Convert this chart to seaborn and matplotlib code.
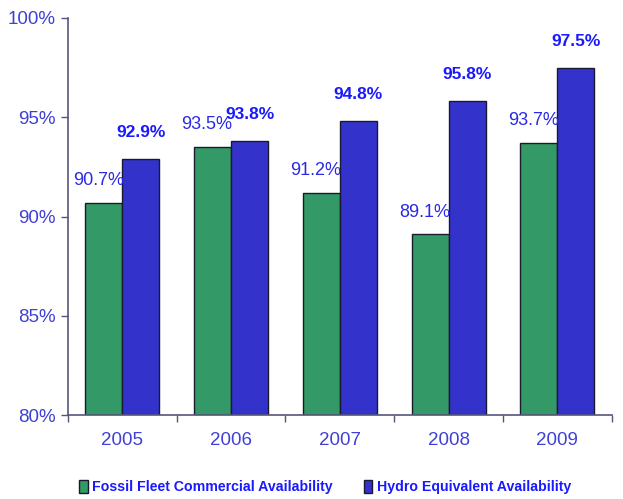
import matplotlib
matplotlib.use("Agg")
import matplotlib.pyplot as plt
import pandas as pd
import seaborn as sns

years = ["2005", "2006", "2007", "2008", "2009"]
fossil = [90.7, 93.5, 91.2, 89.1, 93.7]
hydro = [92.9, 93.8, 94.8, 95.8, 97.5]
series = ["Fossil Fleet Commercial Availability", "Hydro Equivalent Availability"]

df = pd.DataFrame({
    "year": years * 2,
    "value": fossil + hydro,
    "series": [series[0]] * len(years) + [series[1]] * len(years),
})

sns.set_style("white")
plt.rcParams["font.family"] = ["Liberation Sans", "DejaVu Sans"]

fig = plt.figure(figsize=(6.23, 4.99), dpi=100)
ax = fig.add_axes([0.109, 0.168, 0.873, 0.796])

palette = {series[0]: "#339966", series[1]: "#3333cc"}
sns.barplot(data=df, x="year", y="value", hue="series", palette=palette,
            saturation=1, width=0.68, edgecolor="#1a1a2e", linewidth=1,
            ax=ax, legend=False)

ax.set_ylim(80, 100)
ax.set_xlim(-0.5, 4.5)
ax.set_yticks([80, 85, 90, 95, 100])
ax.set_yticklabels(["80%", "85%", "90%", "95%", "100%"])
ax.set_xlabel("")
ax.set_ylabel("")

tick_col = "#4040d4"
spine_col = "#55557a"
ax.tick_params(axis="y", colors=spine_col, labelcolor=tick_col, labelsize=13.5,
               length=5, width=1, direction="out", left=True)
ax.tick_params(axis="x", which="major", length=0, labelcolor=tick_col,
               labelsize=13.5, pad=12)
ax.set_xticks([-0.5, 0.5, 1.5, 2.5, 3.5, 4.5], minor=True)
ax.tick_params(axis="x", which="minor", length=5, width=1, color=spine_col,
               direction="out", bottom=True)
for s in ["top", "right"]:
    ax.spines[s].set_visible(False)
for s in ["left", "bottom"]:
    ax.spines[s].set_color(spine_col)
    ax.spines[s].set_linewidth(1.2)

# value labels
bars_f, bars_h = ax.containers[0], ax.containers[1]
for bar, v in zip(bars_f, fossil):
    ax.annotate(f"{v}%", (bar.get_x() + bar.get_width() / 2, v),
                xytext=(-4, 16), textcoords="offset points",
                ha="center", va="center", fontsize=13, color="#2a2ae6")
for bar, v in zip(bars_h, hydro):
    ax.annotate(f"{v}%", (bar.get_x() + bar.get_width() / 2, v),
                xytext=(0, 19), textcoords="offset points",
                ha="center", va="center", fontsize=12.5, color="#1a1aff",
                fontweight="bold")

handles = [plt.Rectangle((0, 0), 1, 1, facecolor=palette[s],
                         edgecolor="#1a1a2e", linewidth=1) for s in series]
leg = fig.legend(handles, series, loc="center", bbox_to_anchor=(0.522, 0.024),
                 ncol=2, frameon=False, handlelength=0.6, handleheight=1.1,
                 handletextpad=0.3, columnspacing=2.2, fontsize=10.2)
for t in leg.get_texts():
    t.set_color("#1a1aff")
    t.set_fontweight("bold")

fig.savefig("out.png", dpi=100)
